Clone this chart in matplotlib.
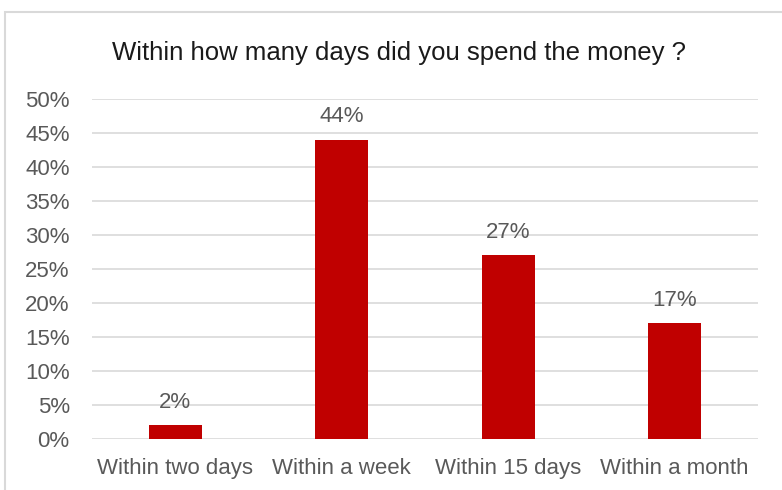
import matplotlib.pyplot as plt
from matplotlib.patches import Rectangle
from matplotlib.ticker import PercentFormatter

plt.rcParams['font.family'] = ['Liberation Sans', 'DejaVu Sans']

categories = ["Within two days", "Within a week", "Within 15 days", "Within a month"]
values = [2, 44, 27, 17]

fig = plt.figure(figsize=(7.82, 4.90), dpi=100)
ax = fig.add_axes([0.1176, 0.1041, 0.8517, 0.6939])

# light frame around the chart area
fig.patches.append(Rectangle((5 / 782, -0.1), 1.2, 1.1 - 12 / 490, transform=fig.transFigure,
                             fill=False, edgecolor="#d9d9d9", linewidth=1.5))

x = range(len(categories))
ax.bar(x, values, width=0.32, color="#c00000", zorder=3)

for xi, v in zip(x, values):
    ax.annotate(f"{v}%", (xi, v), xytext=(0, 16.5), textcoords="offset points",
                ha="center", va="center", fontsize=16, color="#595959")

ax.set_xlim(-0.5, len(categories) - 0.5)
ax.set_ylim(0, 50)
ax.set_yticks(range(0, 51, 5))
ax.yaxis.set_major_formatter(PercentFormatter(decimals=0))
ax.set_xticks(list(x))
ax.set_xticklabels(categories)
ax.tick_params(axis="both", length=0, labelsize=16, labelcolor="#595959")
ax.tick_params(axis="y", pad=16)
ax.tick_params(axis="x", pad=14)
ax.grid(axis="y", color="#d9d9d9", linewidth=1.2, zorder=0)
for s in ax.spines.values():
    s.set_visible(False)

fig.text(0.51, 1 - 53 / 490, "Within how many days did you spend the money ?",
         ha="center", va="center", fontsize=18.5, color="#1a1a1a")

fig.savefig("out.png", dpi=100)
